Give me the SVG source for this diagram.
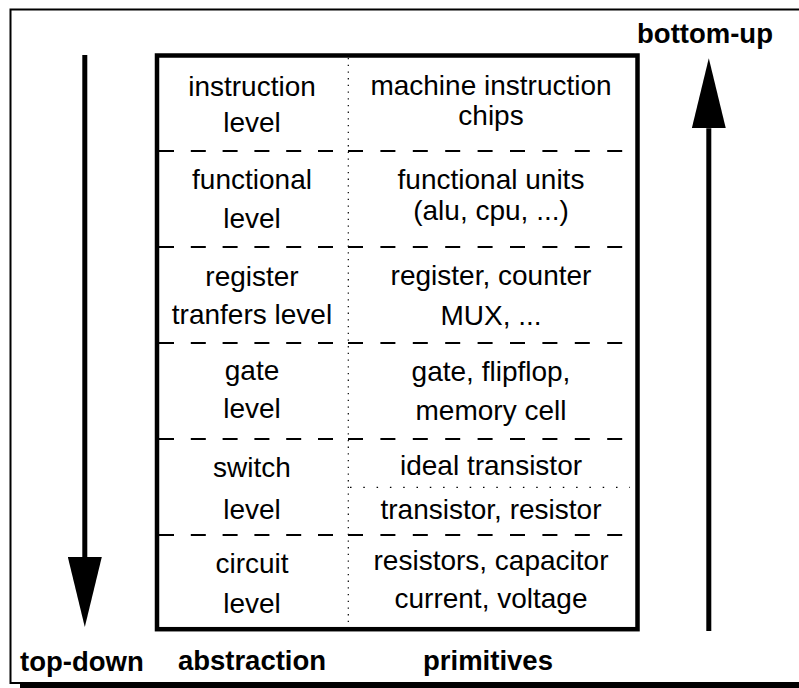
<svg xmlns="http://www.w3.org/2000/svg" width="799" height="688" viewBox="0 0 799 688">
  <style>
    .t { font-family: "Liberation Sans", Arial, sans-serif; font-size: 28px; fill: #000; text-anchor: middle; }
    .b { font-family: "Liberation Sans", Arial, sans-serif; font-size: 27.5px; font-weight: bold; fill: #000; }
    .dashL { stroke: #000; stroke-width: 2; stroke-dasharray: 15 16.8; fill: none; }
    .dashR { stroke: #000; stroke-width: 2; stroke-dasharray: 15 17.4; fill: none; }
    .dot { stroke: #000; stroke-width: 1.2; fill: none; }
    .shaft { stroke: #000; stroke-width: 5; fill: none; marker-end: url(#head); }
  </style>
  <defs>
    <!-- solid triangular arrowhead, attached at its base -->
    <marker id="head" viewBox="0 0 70 34" refX="0" refY="17" markerWidth="70" markerHeight="34" markerUnits="userSpaceOnUse" orient="auto">
      <path d="M0,0 L70,17 L0,34 Z" fill="#000"/>
    </marker>
  </defs>

  <rect x="0" y="0" width="799" height="688" fill="#fff"/>

  <!-- page frame with drop shadow -->
  <g id="frame">
    <rect x="10.5" y="9.5" width="800" height="673.5" fill="none" stroke="#000" stroke-width="2"/>
    <rect x="20" y="684" width="790" height="4" fill="#000"/>
  </g>

  <!-- level table -->
  <g id="table">
    <rect x="157" y="55.5" width="480.5" height="573.7" fill="none" stroke="#000" stroke-width="4.5"/>
    <line class="dot" x1="348.3" y1="58" x2="348.3" y2="627" stroke-dasharray="1.3 5.4"/>
    <g id="row-separators">
      <line class="dashL" x1="159" y1="151" x2="334" y2="151"/>
      <line class="dashR" x1="348" y1="151" x2="623" y2="151"/>
      <line class="dashL" x1="159" y1="247" x2="334" y2="247"/>
      <line class="dashR" x1="348" y1="247" x2="623" y2="247"/>
      <line class="dashL" x1="159" y1="343" x2="334" y2="343"/>
      <line class="dashR" x1="348" y1="343" x2="623" y2="343"/>
      <line class="dashL" x1="159" y1="439" x2="334" y2="439"/>
      <line class="dashR" x1="348" y1="439" x2="623" y2="439"/>
      <line class="dashL" x1="159" y1="535" x2="334" y2="535"/>
      <line class="dashR" x1="348" y1="535" x2="623" y2="535"/>
      <line class="dot" x1="350" y1="487.3" x2="630" y2="487.3" stroke-width="1.5" stroke-dasharray="1.5 11.8"/>
    </g>
  </g>

  <g id="row-instruction">
    <text class="t" x="252" y="96">instruction</text>
    <text class="t" x="252" y="132">level</text>
    <text class="t" x="491" y="95">machine instruction</text>
    <text class="t" x="491" y="125">chips</text>
  </g>
  <g id="row-functional">
    <text class="t" x="252" y="189">functional</text>
    <text class="t" x="252" y="228">level</text>
    <text class="t" x="491" y="189">functional units</text>
    <text class="t" x="491" y="220">(alu, cpu, ...)</text>
  </g>
  <g id="row-register">
    <text class="t" x="252" y="286">register</text>
    <text class="t" x="252" y="324">tranfers level</text>
    <text class="t" x="491" y="285">register, counter</text>
    <text class="t" x="491" y="325">MUX, ...</text>
  </g>
  <g id="row-gate">
    <text class="t" x="252" y="380">gate</text>
    <text class="t" x="252" y="418">level</text>
    <text class="t" x="491" y="381">gate, flipflop,</text>
    <text class="t" x="491" y="420">memory cell</text>
  </g>
  <g id="row-switch">
    <text class="t" x="252" y="477">switch</text>
    <text class="t" x="252" y="519">level</text>
    <text class="t" x="491" y="475">ideal transistor</text>
    <text class="t" x="491" y="519">transistor, resistor</text>
  </g>
  <g id="row-circuit">
    <text class="t" x="252" y="573">circuit</text>
    <text class="t" x="252" y="613">level</text>
    <text class="t" x="491" y="570">resistors, capacitor</text>
    <text class="t" x="491" y="608">current, voltage</text>
  </g>

  <!-- direction arrows -->
  <g id="connectors">
    <line class="shaft" x1="84.8" y1="55" x2="84.8" y2="557"/>
    <line class="shaft" x1="708.8" y1="631" x2="708.8" y2="128.3"/>
  </g>

  <g id="labels">
    <text class="b" x="705" y="43" text-anchor="middle">bottom-up</text>
    <text class="b" x="20" y="671">top-down</text>
    <text class="b" x="252" y="670" text-anchor="middle">abstraction</text>
    <text class="b" x="488" y="670" text-anchor="middle">primitives</text>
  </g>
</svg>
